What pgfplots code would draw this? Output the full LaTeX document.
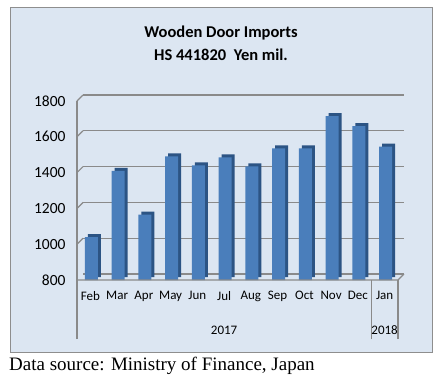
\documentclass[border=0pt]{standalone}
\usepackage{pgfplots}
\pgfplotsset{compat=1.18}
\usepackage{pgfplotstable}
\usepackage{fontspec}
\setmainfont{Carlito}
\newfontfamily\srcfont{Liberation Serif}
\definecolor{bg}{HTML}{DCE6F2}
\definecolor{framec}{HTML}{8E8E8E}
\definecolor{barf}{HTML}{4A7EBB}
\definecolor{bars}{HTML}{2C5484}
\definecolor{gridc}{HTML}{8A8A8A}
\pgfplotstableread{
x val
0 1040
1 1410
2 1165
3 1490
4 1440
5 1485
6 1435
7 1535
8 1535
9 1715
10 1660
11 1545
}\datatable
\begin{document}
\begin{tikzpicture}
\useasboundingbox (0pt,0pt) rectangle (443pt,-381pt);
\fill[white] (0pt,0pt) rectangle (443pt,-381pt);
\draw[framec, fill=bg, line width=1pt] (10pt,-7pt) rectangle (432pt,-352pt);
\node[font=\bfseries\fontsize{16.5}{19}\selectfont] at (221pt,-33pt) {Wooden Door Imports};
\node[font=\bfseries\fontsize{16.5}{19}\selectfont] at (221pt,-55pt) {HS 441820\ \ Yen mil.};
\node[anchor=west, inner sep=0pt, font=\srcfont\fontsize{19}{21}\selectfont] at (9pt,-366pt) {Data source: Ministry of Finance, Japan};
\begin{axis}[
  at={(77pt,-280pt)}, anchor=south west,
  width=321pt, height=179pt, scale only axis,
  xmin=-0.5, xmax=11.5, ymin=800, ymax=1800,
  ytick={800,1000,...,1800},
  xtick={0,...,11},
  xticklabels={Feb,Mar,Apr,May,Jun,Jul,Aug,Sep,Oct,Nov,Dec,Jan},
  major tick length=0pt,
  axis line style={draw=none},
  ymajorgrids,
  major grid style={draw=gridc, line width=1.2pt, shift={(6pt,6pt)}},
  /pgf/number format/assume math mode=true,
  /pgf/number format/1000 sep={},
  yticklabel style={font=\fontsize{15.5}{17}\selectfont, xshift=-8pt},
  xticklabel style={font=\fontsize{13}{15}\selectfont, yshift=-8pt},
  clip=false,
]
\addplot[ybar, bar width=13pt, bar shift=4pt, yshift=3pt, fill=bars, draw=none] table[x=x, y=val] {\datatable};
\addplot[ybar, bar width=13pt, bar shift=1pt, fill=barf, draw=none] table[x=x, y=val] {\datatable};
\foreach \v in {1000,1200,1400,1600,1800} {
  \edef\tmp{\noexpand\draw[gridc, line width=1.2pt] (axis cs:-0.5,\v) -- ([shift={(6pt,6pt)}]axis cs:-0.5,\v);}
  \tmp
}
\draw[gridc, line width=1.2pt] ([yshift=-59pt]axis cs:-0.5,800) -- (axis cs:-0.5,1800);
\draw[gridc, line width=1.2pt] (axis cs:-0.5,800) -- (axis cs:11.5,800) -- ([shift={(6pt,6pt)}]axis cs:11.5,800);
\draw[gridc, line width=1.2pt] ([yshift=-59pt]axis cs:10.5,800) -- (axis cs:10.5,800);
\draw[gridc, line width=1.2pt] ([yshift=-59pt]axis cs:11.5,800) -- (axis cs:11.5,800);
\node[font=\fontsize{13}{15}\selectfont] at ([yshift=-50pt]axis cs:5,800) {2017};
\node[font=\fontsize{13}{15}\selectfont] at ([yshift=-50pt]axis cs:11,800) {2018};
\end{axis}
\end{tikzpicture}
\end{document}
